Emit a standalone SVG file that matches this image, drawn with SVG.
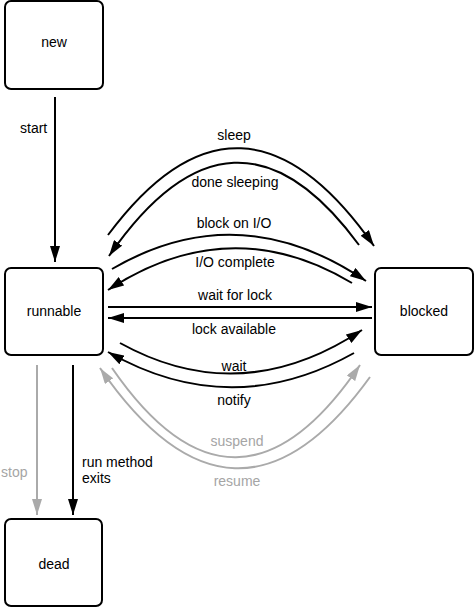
<svg xmlns="http://www.w3.org/2000/svg" width="475" height="608" viewBox="0 0 475 608">
<style>
.box{fill:#fff;stroke:#000;stroke-width:2}
text{font-family:"Liberation Sans",Arial,sans-serif;font-size:14px;fill:#000}
.c{text-anchor:middle}
.g{fill:#a5a5a5}
.e{fill:none;stroke:#000;stroke-width:2;marker-end:url(#ah)}
.eg{fill:none;stroke:#aaa;stroke-width:2;marker-end:url(#ahg)}
</style>
<defs>
<marker id="ah" markerUnits="userSpaceOnUse" markerWidth="16" markerHeight="10" refX="16" refY="5" orient="auto" viewBox="0 0 16 10"><path d="M0,0 L16,5 L0,10 z" fill="#000"/></marker>
<marker id="ahg" markerUnits="userSpaceOnUse" markerWidth="16" markerHeight="10" refX="16" refY="5" orient="auto" viewBox="0 0 16 10"><path d="M0,0 L16,5 L0,10 z" fill="#aaa"/></marker>
</defs>
<g id="new"><rect class="box" x="5" y="1" width="98" height="88" rx="6"/><text class="c" x="54" y="47">new</text></g>
<g id="runnable"><rect class="box" x="5" y="268" width="98" height="87" rx="6"/><text class="c" x="54" y="316">runnable</text></g>
<g id="blocked"><rect class="box" x="375" y="268" width="98" height="87" rx="6"/><text class="c" x="424" y="316">blocked</text></g>
<g id="dead"><rect class="box" x="5" y="519" width="97" height="87" rx="6"/><text class="c" x="54" y="569">dead</text></g>
<g id="connectors">
<path class="e" d="M55,97 L55,262"/>
<text x="20" y="133">start</text>
<path class="e" d="M108,235 Q241,56 374,246"/>
<text class="c" x="234" y="140">sleep</text>
<path class="e" d="M359,245 Q234,75 109,256"/>
<text class="c" x="235" y="187">done sleeping</text>
<path class="e" d="M112,269 Q239,195 366,281"/>
<text class="c" x="234" y="228">block on I/O</text>
<path class="e" d="M352,283 Q230,210 108,290"/>
<text class="c" x="235" y="267">I/O complete</text>
<path class="e" d="M108,307 L372,307"/>
<text class="c" x="235" y="300">wait for lock</text>
<path class="e" d="M372,318 L108,318"/>
<text class="c" x="234" y="334">lock available</text>
<path class="e" d="M120,343 Q241,410 362,330"/>
<text class="c" x="234" y="371">wait</text>
<path class="e" d="M354,353 Q231,422 108,352"/>
<text class="c" x="234" y="405">notify</text>
<path class="eg" d="M112,368 Q236,548 360,365"/>
<text class="c g" x="237" y="446">suspend</text>
<path class="eg" d="M370,377 Q235,564 100,368"/>
<text class="c g" x="237" y="486">resume</text>
<path class="eg" d="M37,365 L37,515"/>
<text class="g" x="1" y="477">stop</text>
<path class="e" d="M73,365 L73,515"/>
<text x="82" y="467">run method</text>
<text x="82" y="483">exits</text>
</g>
</svg>
